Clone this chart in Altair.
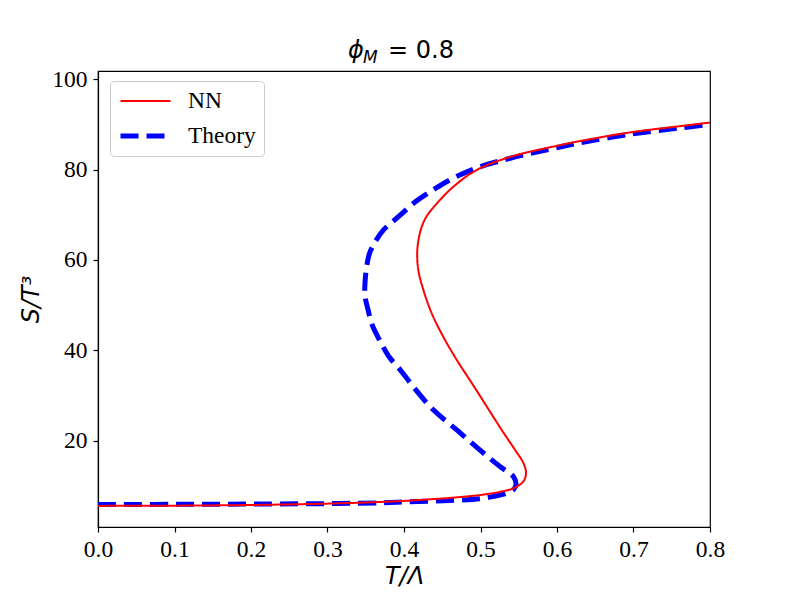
import altair as alt
import pandas as pd

# ---- data ----
nn_T = [0.0, 0.1, 0.2, 0.3, 0.35, 0.4, 0.438, 0.47, 0.5037, 0.525, 0.543, 0.556, 0.5595,
        0.556, 0.5451, 0.5277, 0.5081, 0.4885, 0.4689, 0.4514, 0.4362, 0.4253, 0.4187,
        0.4174, 0.4218, 0.429, 0.443, 0.4645, 0.495, 0.539, 0.604, 0.63, 0.695, 0.761, 0.8]
nn_S = [5.6, 5.65, 5.8, 6.1, 6.35, 6.7, 7.1, 7.5, 8.1, 8.7, 9.5, 11.0, 12.9,
        15.1, 18.0, 22.4, 27.6, 32.8, 37.9, 43.0, 48.2, 53.4, 57.8,
        62.2, 66.6, 69.5, 72.5, 76.2, 79.9, 82.8, 85.4, 86.3, 88.2, 89.6, 90.4]

th_T = [0.0, 0.1, 0.2, 0.3, 0.373, 0.4, 0.46, 0.5, 0.517, 0.534, 0.543, 0.5464, 0.543,
        0.5255, 0.499, 0.469, 0.438, 0.412, 0.395, 0.38, 0.368, 0.358, 0.353, 0.349,
        0.349, 0.351, 0.355, 0.363, 0.373, 0.395, 0.412, 0.438, 0.4645, 0.499, 0.539,
        0.604, 0.63, 0.695, 0.761, 0.8]
th_S = [5.9, 5.95, 6.0, 6.1, 6.3, 6.45, 6.8, 7.2, 7.7, 8.4, 9.2, 10.3, 12.1,
        14.3, 18.0, 22.4, 26.9, 32.0, 35.7, 38.7, 42.3, 45.8, 49.0, 52.0,
        54.8, 58.3, 61.5, 64.2, 66.6, 69.9, 72.5, 75.5, 78.1, 80.6, 82.5,
        85.0, 85.9, 87.8, 89.2, 90.0]

series_names = ["NN", "Theory"]
x_ticks = [0.0, 0.1, 0.2, 0.3, 0.4, 0.5, 0.6, 0.7, 0.8]
y_ticks = [20, 40, 60, 80, 100]
title_parts = ["ϕ", "M", "= 0.8"]

rows = []
for i, (t, s) in enumerate(zip(th_T, th_S)):
    rows.append({"series": "Theory", "T": t, "S": s, "i": i})
for i, (t, s) in enumerate(zip(nn_T, nn_S)):
    rows.append({"series": "NN", "T": t, "S": s, "i": i})
df = pd.DataFrame(rows)

W, H = 612, 456

legend_cfg = dict(
    title=None, orient="none", legendX=12, legendY=10,
    symbolType="stroke", symbolSize=2500, clipHeight=24, labelOffset=15, rowPadding=11,
    labelFont="Liberation Serif", labelFontSize=23.5, labelColor="black",
    strokeColor="#cccccc", fillColor="rgba(255,255,255,0.8)", cornerRadius=4,
    padding=8,
)

lines = alt.Chart(df).mark_line(clip=True, strokeCap="butt", strokeJoin="round",
                                interpolate="catmull-rom").encode(
    x=alt.X("T:Q", scale=alt.Scale(domain=[0, 0.8], nice=False, zero=False),
            axis=alt.Axis(values=x_ticks, format=".1f", title="T/Λ",
                          titleY=56, titleBaseline="alphabetic")),
    y=alt.Y("S:Q", scale=alt.Scale(domain=[0.93, 101.8], nice=False, zero=False),
            axis=alt.Axis(values=y_ticks, title="S/T³",
                          titleX=-60, titleBaseline="alphabetic")),
    color=alt.Color("series:N", scale=alt.Scale(domain=series_names, range=["red", "blue"]),
                    legend=alt.Legend(**legend_cfg)),
    strokeDash=alt.StrokeDash("series:N",
                              scale=alt.Scale(domain=series_names, range=[[1, 0], [18, 8]]),
                              legend=alt.Legend(**legend_cfg)),
    strokeWidth=alt.StrokeWidth("series:N",
                                scale=alt.Scale(type="ordinal", domain=series_names, range=[2, 5]),
                                legend=alt.Legend(**legend_cfg)),
    order=alt.Order("i:Q"),
)

t_phi = alt.Chart(pd.DataFrame({"t": [title_parts[0]]})).mark_text(
    font="DejaVu Sans", fontStyle="italic", fontSize=24, align="left",
    baseline="alphabetic", color="black"
).encode(text="t:N", x=alt.value(250), y=alt.value(-12.7))
t_sub = alt.Chart(pd.DataFrame({"t": [title_parts[1]]})).mark_text(
    font="DejaVu Sans", fontStyle="italic", fontSize=17, align="left",
    baseline="alphabetic", color="black"
).encode(text="t:N", x=alt.value(265), y=alt.value(-7.7))
t_rest = alt.Chart(pd.DataFrame({"t": [title_parts[2]]})).mark_text(
    font="DejaVu Sans", fontSize=24, align="left",
    baseline="alphabetic", color="black"
).encode(text="t:N", x=alt.value(290), y=alt.value(-12.7))

chart = alt.layer(lines, t_phi, t_sub, t_rest).properties(
    width=W, height=H,
    autosize=alt.AutoSizeParams(type="none"),
    padding={"left": 90, "top": 63, "right": 60, "bottom": 62},
    background="white",
).configure_view(
    stroke="black", strokeWidth=1.2
).configure_axis(
    grid=False, domainColor="black", domainWidth=1.2, tickColor="black", tickWidth=1.2,
    tickSize=5, labelFont="Liberation Serif", labelFontSize=23.5, labelColor="black",
    labelPadding=5, labelFlush=False, labelOverlap=False,
    titleFont="DejaVu Sans", titleFontSize=24, titleFontStyle="italic",
    titleFontWeight="normal", titleColor="black",
).configure_axisY(labelPadding=6)

chart.save("out.html", embed_options={"renderer": "svg", "actions": False})
